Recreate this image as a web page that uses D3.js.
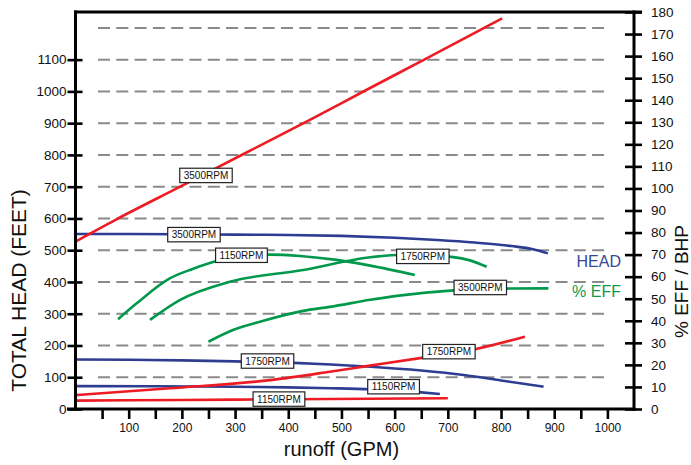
<!DOCTYPE html>
<html><head><meta charset="utf-8">
<script src="https://cdn.jsdelivr.net/npm/d3@7"></script>
<style>
html,body{margin:0;padding:0;background:#fff;}
svg{display:block;}
</style></head>
<body>
<svg id="chart" width="691" height="465"></svg>
<script>
// ---------- data ----------
const rpmNames = ["1150RPM", "1750RPM", "3500RPM"];
const xTicks = [50,100,150,200,250,300,350,400,450,500,550,600,650,700,750,800,850,900,950,1000];
const xTickLabels = [100,200,300,400,500,600,700,800,900,1000];
const leftTicks = [0,100,200,300,400,500,600,700,800,900,1000,1100];
const gridValues = [100,200,300,400,500,600,700,800,900,1000,1100,1200];
const rightTicks = [0,10,20,30,40,50,60,70,80,90,100,110,120,130,140,150,160,170,180];

// HEAD (feet, left axis)
const head3500Gpm = [0,100,200,300,400,500,600,680,750,820,860,888];
const head3500Ft  = [551,551,550,549,548,545,539,532,524,513,503,490];
const head1750Gpm = [0,100,200,300,400,480,555,650,730,800,880];
const head1750Ft  = [156,155,153,150,146,140,133,121,107,90,70];
const head1150Gpm = [0,150,300,400,480,555,645,685];
const head1150Ft  = [72,71.5,70,68,65.5,62,53,47];

// % EFF (right axis)
const eff1150Gpm = [80,115,178,220,263,300,366,422,491,554,638];
const eff1150Val = [40.7,47.9,59.3,63.5,67,69,70,69.4,67.6,65,60.8];
const eff1750Gpm = [140,196,290,428,554,604,650,702,740,773];
const eff1750Val = [40.4,49.4,57.7,63,68.8,69.8,70,69.1,67.5,64.5];
const eff3500Gpm = [250,296,350,428,478,554,604,711,811,889];
const eff3500Val = [30.5,35.8,39.8,44.5,46.3,49.5,51.3,53.8,54.6,54.7];

// BHP (right axis)
const bhp3500Gpm = [0,77,196,315,437,544,661,802];
const bhp3500Val = [75.9,86.0,100.7,115.5,130.6,144.3,159.1,177.1];
const bhp1750Gpm = [0,178,366,478,541,654,751,845];
const bhp1750Val = [6.3,9.4,13.1,16.9,19.2,23.3,27.1,32.8];
const bhp1150Gpm = [0,200,400,700];
const bhp1150Val = [3.8,4.1,4.4,4.85];

// curve labels: [text, axis, gpm, value]
const labelText  = ["3500RPM","3500RPM","1150RPM","1750RPM","3500RPM","1750RPM","1750RPM","1150RPM","1150RPM"];
const labelAxis  = ["right","left","right","right","right","left","right","left","right"];
const labelGpm   = [245.3,222.7,312,653,761,361,702,598,382.5];
const labelValue = [105.9,549,69.7,69.2,55.1,151,26,70.2,4.5];

// ---------- chart ----------
const RED = "#ed1c24", BLUE = "#2e3d92", GREEN = "#00994c";
const svg = d3.select("#chart");
const x = d3.scaleLinear().domain([0,1050]).range([75.5,634]);
const yL = d3.scaleLinear().domain([0,1250]).range([409,12]);
const yR = d3.scaleLinear().domain([0,180]).range([409,12]);
const FONT = "'Liberation Sans', Arial, sans-serif";

// gridlines
svg.append("g").selectAll("line").data(gridValues).join("line")
  .attr("x1", 98).attr("x2", 610)
  .attr("y1", d => yL(d)).attr("y2", d => yL(d))
  .attr("stroke", "#8a8a8a").attr("stroke-width", 2)
  .attr("stroke-dasharray", "12,6.3");

// series
const line = (sx, sy) => d3.line().x(d => x(d[0])).y(d => sy(d[1])).curve(d3.curveMonotoneX);
const zip = (a, b) => a.map((v, i) => [v, b[i]]);
const series = [
  [head3500Gpm, head3500Ft, yL, BLUE],
  [head1750Gpm, head1750Ft, yL, BLUE],
  [head1150Gpm, head1150Ft, yL, BLUE],
  [eff1150Gpm, eff1150Val, yR, GREEN],
  [eff1750Gpm, eff1750Val, yR, GREEN],
  [eff3500Gpm, eff3500Val, yR, GREEN],
  [bhp3500Gpm, bhp3500Val, yR, RED],
  [bhp1750Gpm, bhp1750Val, yR, RED],
  [bhp1150Gpm, bhp1150Val, yR, RED]
];
const gS = svg.append("g");
series.forEach(([gx, gv, sy, col]) => {
  gS.append("path").datum(zip(gx, gv))
    .attr("d", line(x, sy)).attr("fill", "none")
    .attr("stroke", col).attr("stroke-width", 2.6).attr("stroke-linecap", "butt");
});

// axes
const axW = 3;
// left axis
const gL = svg.append("g").attr("transform", `translate(${x(0)},0)`)
  .call(d3.axisLeft(yL).tickValues(leftTicks).tickSize(8).tickFormat(d3.format("d")));
gL.select(".domain").remove();
gL.selectAll(".tick line").attr("x1", 7).attr("x2", -8).attr("stroke", "#000").attr("stroke-width", 2.6);
gL.selectAll(".tick text").attr("x", -9).attr("font-family", FONT).attr("font-size", 13.5).attr("fill", "#111");
// right axis
const gR = svg.append("g").attr("transform", `translate(${x(1050)},0)`)
  .call(d3.axisRight(yR).tickValues(rightTicks).tickSize(8).tickFormat(d3.format("d")));
gR.select(".domain").remove();
gR.selectAll(".tick line").attr("x1", -9).attr("x2", 8).attr("stroke", "#000").attr("stroke-width", 2.6);
gR.selectAll(".tick text").attr("x", 17).attr("font-family", FONT).attr("font-size", 13.5).attr("fill", "#111");
// bottom axis
const gB = svg.append("g").attr("transform", `translate(0,${yL(0)})`)
  .call(d3.axisBottom(x).tickValues(xTicks).tickSize(10)
    .tickFormat(d => xTickLabels.includes(d) ? d : ""));
gB.select(".domain").remove();
gB.selectAll(".tick line").attr("stroke", "#000").attr("stroke-width", 2.6);
gB.selectAll(".tick text").attr("y", 14).attr("font-family", FONT).attr("font-size", 12).attr("fill", "#111");

// frame lines
svg.append("line").attr("x1", x(0)).attr("x2", x(0)).attr("y1", yL(1250)-1.5).attr("y2", yL(0)+1.5)
  .attr("stroke", "#000").attr("stroke-width", axW);
svg.append("line").attr("x1", x(1050)).attr("x2", x(1050)).attr("y1", yL(1250)-1.5).attr("y2", yL(0)+1.5)
  .attr("stroke", "#000").attr("stroke-width", axW);
svg.append("line").attr("x1", 67).attr("x2", x(1050)+1.5).attr("y1", yL(0)).attr("y2", yL(0))
  .attr("stroke", "#000").attr("stroke-width", axW);
svg.append("line").attr("x1", x(0)-1.5).attr("x2", x(1050)+8).attr("y1", yL(1250)).attr("y2", yL(1250))
  .attr("stroke", "#000").attr("stroke-width", axW);

// axis titles
svg.append("text").attr("transform", `translate(26,${(yL(0)+yL(1250))/2 + 80}) rotate(-90)`)
  .attr("text-anchor", "middle").attr("font-family", FONT).attr("font-size", 21).attr("fill", "#111")
  .text("TOTAL HEAD (FEET)");
svg.append("text").attr("transform", `translate(688,${(yR(0)+yR(180))/2 + 71}) rotate(-90)`)
  .attr("text-anchor", "middle").attr("font-family", FONT).attr("font-size", 19).attr("fill", "#111")
  .text("% EFF / BHP");
svg.append("text").attr("x", x(500)).attr("y", 456)
  .attr("text-anchor", "middle").attr("font-family", FONT).attr("font-size", 20).attr("fill", "#111")
  .text("runoff (GPM)");

// legend texts
svg.append("text").attr("x", 621).attr("y", 267).attr("text-anchor", "end")
  .attr("font-family", FONT).attr("font-size", 16).attr("fill", "#34489c").text("HEAD");
svg.append("text").attr("x", 621).attr("y", 297).attr("text-anchor", "end")
  .attr("font-family", FONT).attr("font-size", 16).attr("fill", "#13994a").text("% EFF");

// curve labels
const gLab = svg.append("g");
labelText.forEach((t, i) => {
  const cx = x(labelGpm[i]);
  const cy = (labelAxis[i] === "left" ? yL : yR)(labelValue[i]);
  const g = gLab.append("g").attr("transform", `translate(${cx},${cy})`);
  const tx = g.append("text").attr("text-anchor", "middle").attr("dy", "0.36em")
    .attr("font-family", FONT).attr("font-size", 10).attr("fill", "#111").text(t);
  const w = tx.node().getComputedTextLength() + 8;
  g.insert("rect", "text").attr("x", -w/2).attr("y", -7.2).attr("width", w).attr("height", 14.4)
    .attr("fill", "#fff").attr("stroke", "#222").attr("stroke-width", 1.2);
});
</script>
</body></html>
